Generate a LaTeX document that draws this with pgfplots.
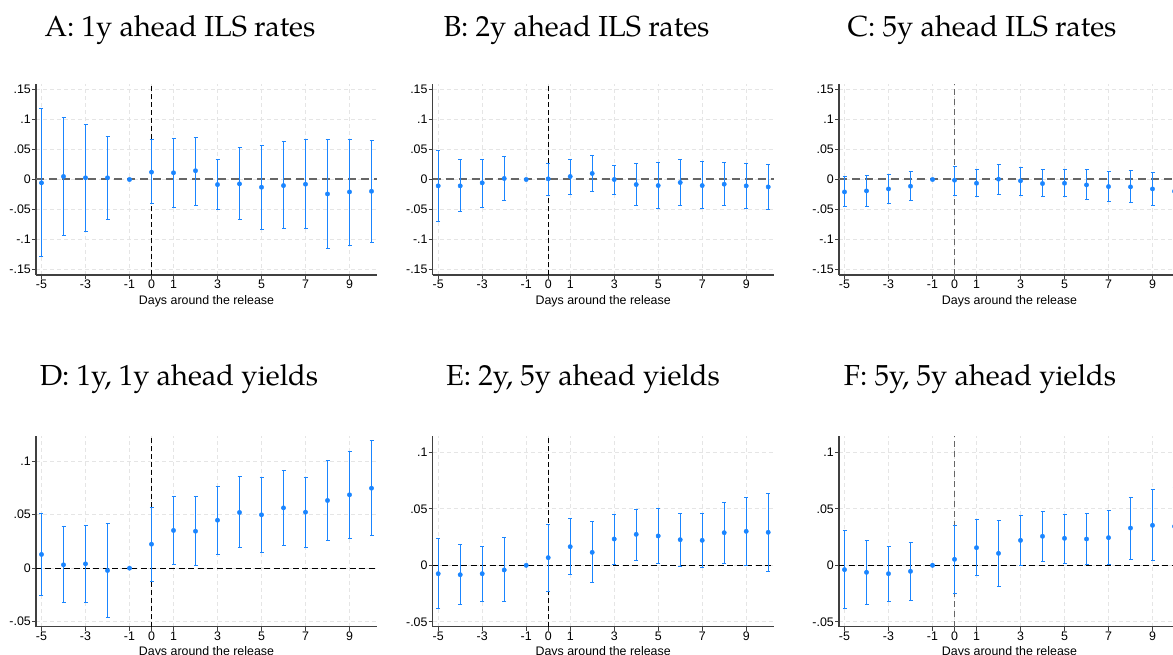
\documentclass[border=0pt]{standalone}
\usepackage{pgfplots}
\usepackage{pgfplotstable}
\pgfplotsset{compat=1.18}
\usepackage{fontspec}
\setmainfont{Liberation Sans}
\newfontfamily\titlefont{texgyrepagella-regular.otf}
\definecolor{stc}{HTML}{1A85FF}
\newcommand{\tickfont}{\fontsize{12.4}{14}\selectfont}

\pgfplotstableread{
x y lo hi
-5 -0.0056 -0.1283 0.1187
-4 0.0050 -0.0929 0.1024
-3 0.0028 -0.0873 0.0923
-2 0.0028 -0.0672 0.0722
-1 0 0 0
0 0.0123 -0.0403 0.0660
1 0.0112 -0.0459 0.0683
2 0.0146 -0.0431 0.0705
3 -0.0084 -0.0504 0.0336
4 -0.0073 -0.0672 0.0532
5 -0.0129 -0.0840 0.0571
6 -0.0101 -0.0817 0.0632
7 -0.0078 -0.0817 0.0660
8 -0.0241 -0.1142 0.0672
9 -0.0207 -0.1091 0.0672
10 -0.0196 -0.1041 0.0644
}\dataA

\pgfplotstableread{
x y lo hi
-5 -0.0106 -0.0694 0.0481
-4 -0.0106 -0.0537 0.0325
-3 -0.0056 -0.0459 0.0336
-2 0.0017 -0.0353 0.0386
-1 0 0 0
0 0.0011 -0.0269 0.0269
1 0.0050 -0.0246 0.0336
2 0.0101 -0.0201 0.0397
3 0.0000 -0.0246 0.0235
4 -0.0084 -0.0431 0.0263
5 -0.0101 -0.0487 0.0285
6 -0.0050 -0.0437 0.0336
7 -0.0101 -0.0487 0.0302
8 -0.0078 -0.0437 0.0285
9 -0.0106 -0.0476 0.0263
10 -0.0123 -0.0504 0.0246
}\dataB

\pgfplotstableread{
x y lo hi
-5 -0.0207 -0.0453 0.0045
-4 -0.0190 -0.0448 0.0067
-3 -0.0157 -0.0397 0.0084
-2 -0.0112 -0.0353 0.0129
-1 0 0 0
0 -0.0011 -0.0269 0.0224
1 -0.0062 -0.0291 0.0168
2 0.0006 -0.0252 0.0252
3 -0.0022 -0.0263 0.0207
4 -0.0067 -0.0291 0.0162
5 -0.0062 -0.0291 0.0168
6 -0.0090 -0.0341 0.0168
7 -0.0118 -0.0369 0.0134
8 -0.0123 -0.0386 0.0151
9 -0.0157 -0.0437 0.0118
10 -0.0196 -0.0504 0.0112
}\dataC

\pgfplotstableread{
x y lo hi
-5 0.0128 -0.0255 0.0507
-4 0.0031 -0.0324 0.0386
-3 0.0040 -0.0324 0.0398
-2 -0.0022 -0.0464 0.0417
-1 0 0 0
0 0.0224 -0.0128 0.0570
1 0.0352 0.0037 0.0666
2 0.0345 0.0025 0.0666
3 0.0448 0.0124 0.0766
4 0.0520 0.0190 0.0853
5 0.0498 0.0149 0.0843
6 0.0563 0.0212 0.0912
7 0.0523 0.0193 0.0847
8 0.0632 0.0255 0.1008
9 0.0685 0.0280 0.1089
10 0.0747 0.0308 0.1189
}\dataD

\pgfplotstableread{
x y lo hi
-5 -0.0074 -0.0383 0.0236
-4 -0.0083 -0.0348 0.0183
-3 -0.0074 -0.0319 0.0168
-2 -0.0041 -0.0324 0.0242
-1 0 0 0
0 0.0068 -0.0230 0.0363
1 0.0165 -0.0080 0.0410
2 0.0115 -0.0153 0.0389
3 0.0233 0.0006 0.0448
4 0.0274 0.0047 0.0496
5 0.0260 0.0018 0.0499
6 0.0227 -0.0006 0.0457
7 0.0221 -0.0015 0.0457
8 0.0289 0.0018 0.0558
9 0.0301 0.0000 0.0602
10 0.0292 -0.0056 0.0634
}\dataE

\pgfplotstableread{
x y lo hi
-5 -0.0038 -0.0386 0.0310
-4 -0.0062 -0.0345 0.0224
-3 -0.0074 -0.0319 0.0168
-2 -0.0053 -0.0310 0.0204
-1 0 0 0
0 0.0053 -0.0248 0.0354
1 0.0156 -0.0091 0.0407
2 0.0106 -0.0189 0.0401
3 0.0221 -0.0003 0.0445
4 0.0257 0.0035 0.0478
5 0.0239 0.0015 0.0454
6 0.0233 0.0003 0.0457
7 0.0245 0.0006 0.0484
8 0.0330 0.0056 0.0602
9 0.0354 0.0041 0.0670
10 0.0345 0.0003 0.0687
}\dataF

\pgfplotsset{
  panel/.style={
    scale only axis, width=341pt, height=191pt,
    xmin=-5.25, xmax=10.25,
    axis x line*=bottom, axis y line*=left,
    axis line style={-, line width=1.2pt, color=black!75},
    tick align=outside, major tick length=4pt,
    tick style={line width=1pt, color=black!75},
    xtick={-5,-3,-1,0,1,3,5,7,9},
    xticklabels={-5,-3,-1,0,1,3,5,7,9},
    xmajorgrids, ymajorgrids,
    grid style={dash pattern=on 4pt off 3pt, color=black!10, line width=0.9pt},
    ticklabel style={font=\tickfont},
    xticklabel style={inner sep=1pt},
    yticklabel style={inner sep=1pt},
    xlabel={Days around the release},
    xlabel style={font=\tickfont, inner sep=0pt, yshift=-1pt},
    extra x ticks={0}, extra x tick labels={},
    extra y ticks={0}, extra y tick labels={},
  },
  toprow/.style={
    ymin=-0.159, ymax=0.159,
    ytick={-0.15,-0.1,-0.05,0,0.05,0.1,0.15},
    yticklabels={-.15,-.1,-.05,0,.05,.1,.15},
  },
  botrowD/.style={
    ymin=-0.0547, ymax=0.1237,
    ytick={-0.05,0,0.05,0.1},
    yticklabels={-.05,0,.05,.1},
  },
  botrowE/.style={
    ymin=-0.0543, ymax=0.1147,
    ytick={-0.05,0,0.05,0.1},
    yticklabels={-.05,0,.05,.1},
  },
  vthin/.style={extra x tick style={major tick length=0pt, grid=major, grid style={dash pattern=on 5pt off 3pt, color=black, line width=1pt}}},
  vthick/.style={extra x tick style={major tick length=0pt, grid=major, grid style={dash pattern=on 6pt off 4pt, color=black!60, line width=1.8pt}}},
  hthin/.style={extra y tick style={major tick length=0pt, grid=major, grid style={dash pattern=on 6pt off 3.5pt, color=black, line width=1.1pt}}},
  hthick/.style={extra y tick style={major tick length=0pt, grid=major, grid style={dash pattern=on 8pt off 5pt, color=black!60, line width=2pt}}},
  coef/.style={only marks, mark=*, draw=stc, fill=stc, color=stc,
    mark size=2.2pt, mark options={draw=stc, fill=stc},
    error bars/.cd, y dir=both, y explicit,
    error bar style={line width=1.3pt, draw=stc, color=stc},
    error mark options={rotate=90, mark size=2pt, line width=1pt, draw=stc, color=stc}},
}

\begin{document}
\begin{tikzpicture}
\path[use as bounding box] (0pt,0pt) rectangle (1173pt,-655pt);

\tikzset{ttl/.style={anchor=base, font=\titlefont\fontsize{29}{33}\selectfont}}
\node[ttl] at (180pt,-37pt) {A: 1y ahead ILS rates};
\node[ttl] at (576.5pt,-37pt) {B: 2y ahead ILS rates};
\node[ttl] at (982pt,-37pt) {C: 5y ahead ILS rates};
\node[ttl] at (179pt,-385pt) {D: 1y, 1y ahead yields};
\node[ttl] at (583pt,-385pt) {E: 2y, 5y ahead yields};
\node[ttl] at (980pt,-385pt) {F: 5y, 5y ahead yields};

\begin{axis}[panel, toprow, vthin, hthick, at={(36pt,-275pt)}, anchor=south west]
\addplot[coef] table[x=x, y=y, y error plus expr=\thisrow{hi}-\thisrow{y}, y error minus expr=\thisrow{y}-\thisrow{lo}] {\dataA};
\end{axis}

\begin{axis}[panel, toprow, vthin, hthick, at={(432.7pt,-275pt)}, anchor=south west]
\addplot[coef] table[x=x, y=y, y error plus expr=\thisrow{hi}-\thisrow{y}, y error minus expr=\thisrow{y}-\thisrow{lo}] {\dataB};
\end{axis}

\begin{axis}[panel, toprow, vthick, hthick, at={(839pt,-275pt)}, anchor=south west]
\addplot[coef] table[x=x, y=y, y error plus expr=\thisrow{hi}-\thisrow{y}, y error minus expr=\thisrow{y}-\thisrow{lo}] {\dataC};
\end{axis}

\begin{axis}[panel, botrowD, vthin, hthin, at={(36pt,-626.7pt)}, anchor=south west]
\addplot[coef] table[x=x, y=y, y error plus expr=\thisrow{hi}-\thisrow{y}, y error minus expr=\thisrow{y}-\thisrow{lo}] {\dataD};
\end{axis}

\begin{axis}[panel, botrowE, vthin, hthin, at={(432.7pt,-626.7pt)}, anchor=south west]
\addplot[coef] table[x=x, y=y, y error plus expr=\thisrow{hi}-\thisrow{y}, y error minus expr=\thisrow{y}-\thisrow{lo}] {\dataE};
\end{axis}

\begin{axis}[panel, botrowE, vthick, hthin, at={(839pt,-626.7pt)}, anchor=south west]
\addplot[coef] table[x=x, y=y, y error plus expr=\thisrow{hi}-\thisrow{y}, y error minus expr=\thisrow{y}-\thisrow{lo}] {\dataF};
\end{axis}
\end{tikzpicture}
\end{document}
